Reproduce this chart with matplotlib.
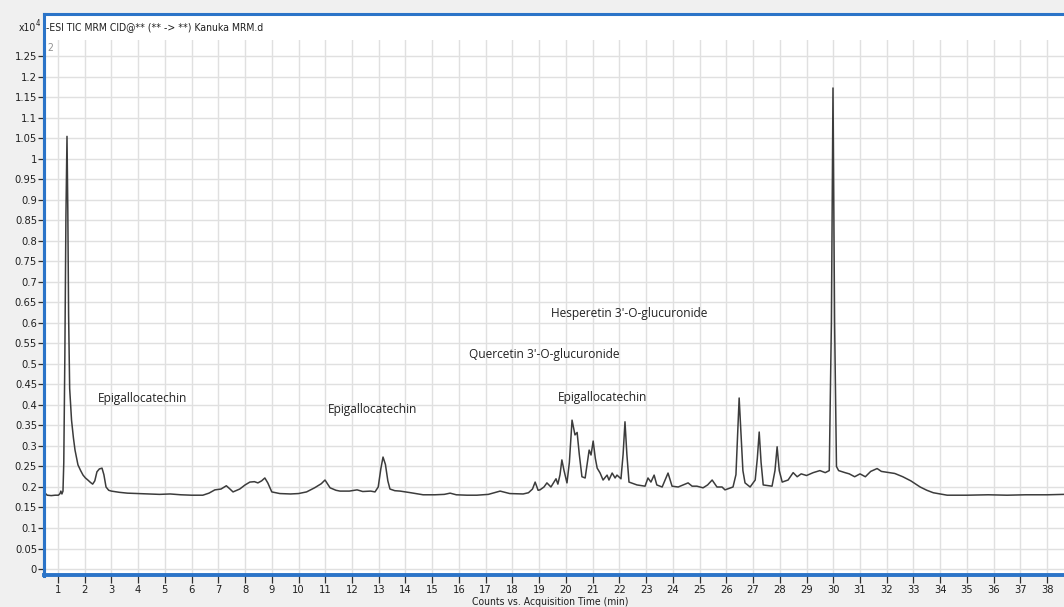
import matplotlib
matplotlib.use("Agg")
import matplotlib.pyplot as plt
from matplotlib.patches import Rectangle
from matplotlib.lines import Line2D
from matplotlib.font_manager import FontProperties

# ---------------- data (counts x10^4 vs acquisition time, min) ----------------
retention_time = [
    0.48, 0.52, 0.6, 0.75, 0.9, 1.02, 1.08, 1.11, 1.15, 1.19, 1.22, 1.26, 1.3, 1.34,
    1.37, 1.4, 1.44, 1.51, 1.58, 1.64, 1.75, 1.85, 1.94, 2.03, 2.12, 2.22, 2.3, 2.38,
    2.46, 2.55, 2.65, 2.72, 2.8, 2.9, 3.0, 3.3, 3.6, 4.0, 4.4, 4.8, 5.2, 5.6, 6.0,
    6.42, 6.65, 6.87, 7.1, 7.3, 7.42, 7.55, 7.8, 8.0, 8.18, 8.35, 8.48, 8.62, 8.74,
    8.85, 9.0, 9.3, 9.7, 10.0, 10.3, 10.6, 10.85, 10.99, 11.18, 11.4, 11.55, 11.9,
    12.19, 12.4, 12.7, 12.86, 12.98, 13.08, 13.16, 13.25, 13.34, 13.42, 13.6, 13.8,
    14.2, 14.66, 15.1, 15.45, 15.67, 15.9, 16.3, 16.67, 17.1, 17.54, 17.9, 18.4,
    18.6, 18.75, 18.85, 18.96, 19.03, 19.18, 19.29, 19.44, 19.63, 19.7, 19.78, 19.85,
    19.93, 20.04, 20.13, 20.23, 20.34, 20.42, 20.5, 20.6, 20.72, 20.87, 20.94, 21.02,
    21.1, 21.17, 21.28, 21.39, 21.54, 21.61, 21.73, 21.84, 21.91, 22.06, 22.14, 22.21,
    22.28, 22.36, 22.66, 22.96, 23.07, 23.18, 23.3, 23.4, 23.6, 23.82, 23.97, 24.2,
    24.38, 24.57, 24.72, 24.9, 25.13, 25.3, 25.47, 25.65, 25.84, 25.95, 26.25, 26.36,
    26.43, 26.48, 26.55, 26.62, 26.7, 26.89, 27.08, 27.16, 27.23, 27.3, 27.38, 27.71,
    27.82, 27.9, 27.98, 28.09, 28.31, 28.5, 28.65, 28.8, 29.0, 29.25, 29.5, 29.7,
    29.85, 29.93, 29.99, 30.05, 30.12, 30.2, 30.44, 30.6, 30.8, 31.0, 31.2, 31.4,
    31.64, 31.8, 32.1, 32.3, 32.6, 32.9, 33.25, 33.5, 33.74, 34.0, 34.26, 35.0,
    35.8, 36.5, 37.2, 38.0, 38.63,
]
counts = [
    0.200, 0.185, 0.180, 0.179, 0.180, 0.180, 0.184, 0.190, 0.183, 0.190, 0.260,
    0.520, 0.860, 1.055, 0.880, 0.620, 0.440, 0.363, 0.320, 0.290, 0.254, 0.240,
    0.229, 0.222, 0.217, 0.211, 0.207, 0.215, 0.237, 0.244, 0.246, 0.230, 0.200,
    0.192, 0.190, 0.187, 0.185, 0.184, 0.183, 0.182, 0.183, 0.181, 0.180, 0.180,
    0.185, 0.193, 0.195, 0.203, 0.196, 0.188, 0.195, 0.205, 0.212, 0.213, 0.210,
    0.215, 0.222, 0.210, 0.188, 0.184, 0.183, 0.184, 0.188, 0.198, 0.208, 0.217,
    0.198, 0.192, 0.190, 0.190, 0.193, 0.189, 0.190, 0.188, 0.200, 0.245, 0.273,
    0.255, 0.215, 0.195, 0.191, 0.190, 0.186, 0.181, 0.181, 0.182, 0.185, 0.181,
    0.180, 0.180, 0.182, 0.190, 0.184, 0.183, 0.186, 0.195, 0.212, 0.192, 0.193,
    0.200, 0.210, 0.200, 0.220, 0.207, 0.230, 0.266, 0.240, 0.210, 0.260, 0.363,
    0.327, 0.333, 0.280, 0.225, 0.222, 0.290, 0.278, 0.312, 0.270, 0.246, 0.234,
    0.217, 0.229, 0.217, 0.234, 0.222, 0.229, 0.220, 0.280, 0.359, 0.280, 0.212,
    0.205, 0.202, 0.222, 0.212, 0.229, 0.205, 0.200, 0.234, 0.202, 0.200, 0.205,
    0.210, 0.202, 0.202, 0.198, 0.205, 0.217, 0.200, 0.200, 0.193, 0.200, 0.230,
    0.340, 0.417, 0.330, 0.240, 0.210, 0.200, 0.217, 0.270, 0.334, 0.260, 0.205,
    0.202, 0.240, 0.298, 0.240, 0.212, 0.217, 0.235, 0.225, 0.232, 0.228, 0.235,
    0.240, 0.235, 0.240, 0.600, 1.173, 0.600, 0.250, 0.240, 0.235, 0.232, 0.225,
    0.232, 0.225, 0.238, 0.245, 0.238, 0.235, 0.233, 0.225, 0.215, 0.200, 0.192,
    0.186, 0.183, 0.180, 0.180, 0.181, 0.180, 0.181, 0.181, 0.182,
]

x_ticks = list(range(1, 39))
y_ticks = [round(0.05 * i, 2) for i in range(0, 26)]
annotations = [
    ("Epigallocatechin", 2.51, 0.416),
    ("Epigallocatechin", 11.1, 0.39),
    ("Quercetin 3'-O-glucuronide", 16.38, 0.522),
    ("Hesperetin 3'-O-glucuronide", 19.44, 0.622),
    ("Epigallocatechin", 19.71, 0.418),
]
title_text = "-ESI TIC MRM CID@** (** -> **) Kanuka MRM.d"

# ---------------- figure ----------------
W, H = 1064, 607
fig = plt.figure(figsize=(W / 100, H / 100), dpi=100, facecolor="#f0f0f0")
blue = "#2b74c8"
ink = "#202020"


def narrow(size):
    return FontProperties(family=["DejaVu Sans"], stretch="condensed", size=size)


def fx(px):
    return px / W


def fy(py):
    return 1 - py / H


# white header band + frame
fig.patches.append(Rectangle((fx(44), fy(40)), 1 - fx(44), fy(14) - fy(40),
                             transform=fig.transFigure, facecolor="white",
                             edgecolor="none", zorder=0))
fig.lines.append(Line2D([fx(44), 1], [fy(14), fy(14)], transform=fig.transFigure,
                        color=blue, lw=2.2, zorder=5))
fig.lines.append(Line2D([fx(44), fx(44)], [fy(14), fy(576)], transform=fig.transFigure,
                        color=blue, lw=2.2, zorder=5))

ax = fig.add_axes([fx(44), fy(575), 1 - fx(44), fy(40) - fy(575)])
ax.set_facecolor("white")
ax.plot(retention_time, counts, color="#3c3c3c", lw=1.1, zorder=3)

ax.set_xlim(0.48, 38.63)
ax.set_ylim(-0.0146, 1.29)
ax.set_xticks(x_ticks)
ax.set_xticklabels([str(t) for t in x_ticks])
ax.set_yticks(y_ticks)
ax.set_yticklabels([f"{v:g}" for v in y_ticks])
ax.grid(True, color="#e0e0e0", lw=1.0, zorder=0)
ax.set_axisbelow(True)

for s in ("top", "right"):
    ax.spines[s].set_visible(False)
ax.spines["left"].set_color(blue)
ax.spines["left"].set_linewidth(2.2)
ax.spines["bottom"].set_color(blue)
ax.spines["bottom"].set_linewidth(2.8)

ax.tick_params(axis="both", direction="out", color="#303030", width=0.9,
               labelcolor=ink)
ax.tick_params(axis="x", length=6, pad=1)
ax.tick_params(axis="y", length=4, pad=1)
for lab in ax.get_xticklabels() + ax.get_yticklabels():
    lab.set_fontproperties(narrow(8))

for txt, t, v in annotations:
    ax.text(t, v, txt, fontsize=8.6, family=["Open Sans", "DejaVu Sans"],
            color="#222222", va="center", ha="left", zorder=4)

ax.text(0.003, 0.995, "2", transform=ax.transAxes, fontproperties=narrow(7.5),
        color="#909090", va="top", ha="left")

fig.text(fx(46), fy(27), title_text, fontproperties=narrow(7.5), color=ink,
         va="center", ha="left")
fig.text(fx(19), fy(28), "x10", fontproperties=narrow(7.5), color=ink,
         va="center", ha="left")
fig.text(fx(36), fy(23), "4", fontproperties=narrow(5.5), color=ink,
         va="center", ha="left")
fig.text(fx(550), fy(597), "Counts vs. Acquisition Time (min)",
         fontproperties=narrow(7.5), color=ink, va="top", ha="center")

fig.savefig("out.png", dpi=100, facecolor=fig.get_facecolor())
